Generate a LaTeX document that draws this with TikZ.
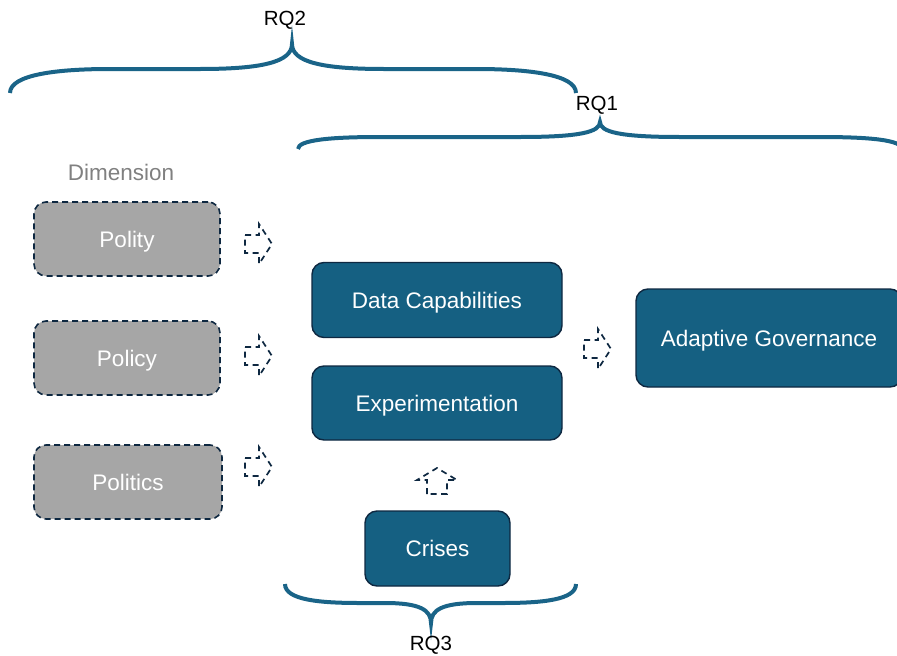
\documentclass[tikz,border=0pt]{standalone}
\usepackage{fontspec}
\setmainfont{Liberation Sans}
\definecolor{boxblue}{HTML}{156082}
\definecolor{edgedark}{HTML}{0E2841}
\definecolor{bracecol}{HTML}{1A6488}
\definecolor{dimgray}{HTML}{A6A6A6}
\definecolor{labelgray}{HTML}{808080}
\begin{document}
\begin{tikzpicture}[x=1pt,y=-1pt,
  boxfont/.style={font=\fontsize{22.5}{26}\selectfont},
  bluebox/.style={draw=edgedark,line width=1.4pt,fill=boxblue,rounded corners=12pt,
    text=white,boxfont,inner sep=0pt,text height=16pt,text depth=0pt},
  dimbox/.style={draw=edgedark,line width=1.6pt,dash pattern=on 6pt off 4pt,fill=dimgray,
    rounded corners=12pt,text=white,boxfont,inner sep=0pt,text height=16pt,text depth=0pt,
    minimum width=186pt,minimum height=74pt},
  bracestyle/.style={draw=bracecol,line width=4pt,line cap=butt},
  rqlabel/.style={font=\fontsize{20.5}{24}\selectfont,text=black,text height=15pt,text depth=0pt,inner sep=0pt},
  arrowline/.style={draw=edgedark,line width=1.7pt,dash pattern=on 6pt off 4.5pt},
  rightarrow/.pic={\path[arrowline] (-13,-9) -- (1,-9) -- (1,-20) -- (14,0) -- (1,20) -- (1,9) -- (-13,9) -- cycle;},
  uparrow/.pic={\path[arrowline] (-10,13) -- (-10,-1) -- (-20,-1) -- (0,-13) -- (20,-1) -- (10,-1) -- (10,13) -- cycle;}
]
\clip (0,0) rectangle (897,656);

% left column: dimension boxes
\node[text=labelgray,boxfont,text height=16pt,text depth=0pt,inner sep=0pt] (dimlabel) at (121,172) {Dimension};
\node[dimbox] (polity) at (127,239) {Polity};
\node[dimbox] (policy) at (127,358) {Policy};
\node[dimbox,minimum width=188pt] (politics) at (128,482) {Politics};

% middle column
\node[bluebox,minimum width=250pt,minimum height=75pt] (data) at (437,300) {Data Capabilities};
\node[bluebox,minimum width=250pt,minimum height=74pt] (exper) at (437,403) {Experimentation};
\node[bluebox,minimum width=145pt,minimum height=75pt] (crises) at (437.5,548.5) {Crises};

% outcome
\node[bluebox,minimum width=266pt,minimum height=98pt] (adapt) at (769,338) {Adaptive Governance};

% dashed block arrows
\pic at (258,244) {rightarrow};
\pic at (258,356) {rightarrow};
\pic at (258,467) {rightarrow};
\pic at (597,349) {rightarrow};
\pic at (437,481) {uparrow};

% RQ2 brace (opening downwards)
\path[bracestyle] (10,93) .. controls (10,74) and (60,69) .. (110,69) -- (200,69)
  .. controls (262,69) and (292,62) .. (292,44)
  .. controls (292,62) and (322,69) .. (384,69) -- (476,69)
  .. controls (526,69) and (576,74) .. (576,93);
\node[rqlabel] (rq2) at (285,18) {RQ2};

% RQ1 brace
\path[bracestyle] (298,149) .. controls (298,140) and (330,137) .. (380,137) -- (520,137)
  .. controls (580,137) and (600,132) .. (600,122)
  .. controls (600,132) and (620,137) .. (680,137) -- (820,137)
  .. controls (870,137) and (902,140) .. (902,149);
\node[rqlabel] (rq1) at (597,103) {RQ1};

% RQ3 brace (opening upwards)
\path[bracestyle] (285,584) .. controls (285,600) and (320,603) .. (360,603) -- (385,603)
  .. controls (420,603) and (431,610) .. (431,623)
  .. controls (431,610) and (442,603) .. (477,603) -- (502,603)
  .. controls (542,603) and (576,600) .. (576,584);
\node[rqlabel] (rq3) at (431,643) {RQ3};
\end{tikzpicture}
\end{document}
